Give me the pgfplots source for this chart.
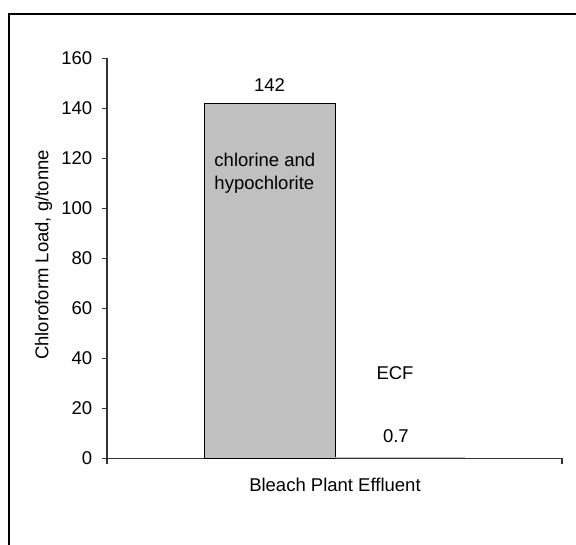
\documentclass[border=0pt]{standalone}
\usepackage{pgfplots}
\pgfplotsset{compat=1.18}
\usepackage{fontspec}
\setmainfont{Liberation Sans}
\definecolor{barGray}{RGB}{192,192,192}
\newcommand{\cf}{\fontsize{18.5}{21}\selectfont}
\begin{document}
\cf
\begin{tikzpicture}[x=1pt,y=1pt]
\path[use as bounding box] (0,0) rectangle (576,545);
\draw[line width=2pt,black] (9,0) -- (9,531) -- (577,531);
\begin{axis}[
  at={(107pt,86.5pt)}, anchor=origin,
  scale only axis, width=455pt, height=400pt,
  xmin=0, xmax=1, ymin=0, ymax=160,
  axis lines=left,
  axis line style={line width=1.2pt, draw=black!80, -},
  xtick={0,1}, xticklabels={},
  ytick={0,20,...,160},
  tick align=outside,
  major tick length=5.5pt,
  tick style={line width=1.2pt, black!80},
  /pgf/number format/assume math mode=true,
  yticklabel style={font=\cf, xshift=-3pt},
  xlabel={Bleach Plant Effluent},
  ylabel={Chloroform Load, g/tonne},
  xlabel style={at={(axis description cs:0.501,-0.066)}, anchor=center, font=\cf},
  ylabel style={at={(axis description cs:-0.1396,0.509)}, anchor=center, font=\cf},
  clip=false,
]
\addplot[ybar, bar width=0.286, bar shift=0pt, fill=barGray, draw=black, line width=0.9pt] coordinates {(0.358,142)};
\addplot[ybar, bar width=0.286, bar shift=0pt, fill=barGray, draw=none] coordinates {(0.644,0.7)};
\node[font=\cf] at (axis cs:0.357,149.4) {142};
\node[font=\fontsize{18.5}{23.5}\selectfont, align=left] at (axis cs:0.347,114.2) {chlorine and\\hypochlorite};
\node[font=\cf] at (axis cs:0.633,34) {ECF};
\node[font=\cf] at (axis cs:0.635,8.8) {0.7};
\end{axis}
\end{tikzpicture}
\end{document}
